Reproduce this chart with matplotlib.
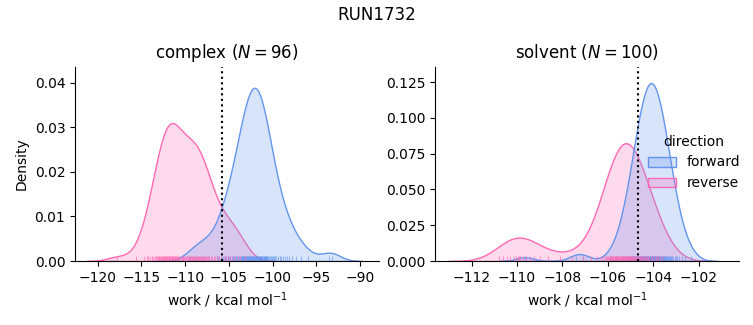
import numpy as np
import matplotlib
matplotlib.use("Agg")
import matplotlib.pyplot as plt
from matplotlib.colors import to_rgba
from matplotlib.patches import Patch
from matplotlib.ticker import MultipleLocator

# ---------------- data (work values, kcal/mol) ----------------
complex_forward = [
    -109.4, -108.6, -108.2, -107.7, -107.3,
    -106.4, -106.2, -105.95, -105.7,
    -105.45, -105.3, -105.15, -105.0, -104.85, -104.7, -104.57,
    -104.45, -104.33, -104.21, -104.1, -103.98, -103.87, -103.76, -103.65, -103.55,
    -103.47, -103.41, -103.35, -103.29, -103.22, -103.16, -103.1, -103.04, -102.97, -102.91,
    -102.85, -102.79, -102.72, -102.66, -102.6, -102.54,
    -102.48, -102.42, -102.37, -102.31, -102.26, -102.2, -102.15, -102.09, -102.04, -101.98,
    -101.93, -101.87, -101.82, -101.76, -101.71, -101.65, -101.6, -101.54,
    -101.47, -101.41, -101.34, -101.28, -101.22, -101.16, -101.09, -101.03, -100.97, -100.91,
    -100.84, -100.78, -100.72, -100.66, -100.59, -100.53,
    -100.45, -100.32, -100.2, -100.07, -99.95, -99.83, -99.7, -99.57,
    -99.4, -99.2, -99.0, -98.8, -98.6,
    -98.35, -98.1, -97.8,
    -97.3, -96.8,
    -96.0,
    -93.55, -93.25,
]

complex_reverse = [
    -117.8, -115.6, -114.7,
    -114.4, -114.2, -114.0, -113.85, -113.7,
    -113.45, -113.35, -113.25, -113.15, -113.05, -112.95, -112.85, -112.75, -112.68, -112.6, -112.52,
    -112.46, -112.39, -112.32, -112.25, -112.18, -112.11, -112.04, -111.97, -111.9, -111.83,
    -111.76, -111.69, -111.62,
    -111.56, -111.49, -111.42, -111.35, -111.28, -111.21, -111.14, -111.07, -111.0, -110.92,
    -110.84, -110.76, -110.68,
    -110.5, -110.4, -110.3, -110.2, -110.1, -110.0, -109.9, -109.8, -109.7, -109.6, -109.52,
    -109.45, -109.36, -109.27, -109.18, -109.09, -109.0, -108.91, -108.82, -108.73, -108.64, -108.55,
    -108.46, -108.37, -108.28, -108.19, -108.1, -108.0, -107.91, -107.82, -107.73, -107.64, -107.55,
    -107.42, -107.25, -107.08, -106.92, -106.75, -106.58,
    -106.35, -106.1, -105.85, -105.6,
    -105.35, -105.1, -104.85, -104.6,
    -104.3, -104.0, -103.7,
    -103.2,
]

solvent_forward = [
    -109.65, -107.4, -107.1,
    -105.87, -105.58, -105.44, -105.34, -105.26, -105.19, -105.13, -105.08, -105.04, -104.99,
    -104.95, -104.91, -104.89, -104.85, -104.82, -104.79, -104.76, -104.73, -104.70, -104.67,
    -104.66, -104.63, -104.61, -104.58, -104.56, -104.54, -104.51, -104.49, -104.47, -104.45,
    -104.44, -104.42, -104.40, -104.38, -104.36, -104.34, -104.32, -104.30, -104.28, -104.26,
    -104.24, -104.22, -104.20, -104.19, -104.17, -104.16, -104.14, -104.12, -104.10,
    -104.08, -104.06, -104.04, -104.03, -104.01, -103.99, -103.98, -103.96, -103.94, -103.92,
    -103.90, -103.88, -103.86, -103.84, -103.82, -103.80, -103.78, -103.76, -103.75, -103.73,
    -103.71, -103.69, -103.66, -103.64, -103.62, -103.59, -103.57, -103.54, -103.53, -103.50,
    -103.47, -103.44, -103.41, -103.38, -103.35, -103.31, -103.29, -103.25, -103.21, -103.16,
    -103.12, -103.07, -103.01, -102.94, -102.86, -102.76, -102.62, -102.33,
]

solvent_reverse = [
    -110.8, -110.6, -110.45, -110.3, -110.15, -110.05, -109.95, -109.9, -109.85, -109.75,
    -109.6, -109.45, -109.25, -109.0, -108.65,
    -108.1, -107.6, -107.1, -106.75,
    -105.51, -105.53, -105.55, -105.57, -105.59, -105.61, -105.63, -105.65, -105.67, -105.69,
    -105.71, -105.74, -105.76, -105.78, -105.81, -105.83, -105.86, -105.89, -105.92, -105.96,
    -105.99, -106.03, -106.08, -106.14, -106.21, -106.30, -106.49,
    -105.45, -105.43, -105.41, -105.39, -105.37, -105.35, -105.32, -105.30, -105.28, -105.26,
    -105.24, -105.22, -105.20, -105.17, -105.15, -105.13, -105.11, -105.08, -105.06, -105.04,
    -105.02, -104.99, -104.97, -104.94, -104.92, -104.89, -104.87, -104.84, -104.81, -104.79,
    -104.76, -104.73, -104.70, -104.67, -104.64, -104.61, -104.57, -104.54, -104.50, -104.46,
    -104.42, -104.38, -104.34, -104.29, -104.24, -104.18, -104.12, -104.05, -103.98, -103.89,
    -103.84, -103.78, -103.71, -103.61,
]

phases = ["complex", "solvent"]
phase_n = [96, 100]
directions = ["forward", "reverse"]
estimates = [-105.8, -104.66]          # dotted vertical lines
data = {
    ("complex", "forward"): complex_forward,
    ("complex", "reverse"): complex_reverse,
    ("solvent", "forward"): solvent_forward,
    ("solvent", "reverse"): solvent_reverse,
}

colors = {"forward": "#6495ED", "reverse": "#FF69B4"}
xlims = [(-122.6, -87.8), (-113.61, -100.22)]
ylims = [(0, 0.0436), (0, 0.1358)]
xsteps = [5, 2]
ysteps = [0.01, 0.025]

total = sum(len(v) for v in data.values())


def kde(samples, weight):
    x = np.asarray(samples, float)
    n = x.size
    bw = x.std(ddof=1) * n ** (-1 / 5)
    grid = np.linspace(x.min() - 3 * bw, x.max() + 3 * bw, 200)
    z = (grid[:, None] - x[None, :]) / bw
    dens = np.exp(-0.5 * z ** 2).sum(axis=1) / (n * bw * np.sqrt(2 * np.pi))
    return grid, dens * weight


fig = plt.figure(figsize=(7.53, 3.25), dpi=100)
axes = [fig.add_axes([0.0996, 0.1969, 0.4041, 0.5978]),
        fig.add_axes([0.5777, 0.1969, 0.4041, 0.5978])]

for i, (ax, phase) in enumerate(zip(axes, phases)):
    for d in directions[::-1]:
        s = data[(phase, d)]
        g, y = kde(s, len(s) / total)
        ax.fill_between(g, 0, y, facecolor=to_rgba(colors[d], 0.25),
                        edgecolor=colors[d], linewidth=1.0)
    for d in directions:
        s = data[(phase, d)]
        ax.vlines(s, 0, 0.025, transform=ax.get_xaxis_transform(),
                  colors=colors[d], linewidth=0.8, alpha=0.6)
    ax.axvline(estimates[i], color="k", linestyle=":", linewidth=1.5)
    ax.set_xlim(*xlims[i])
    ax.set_ylim(*ylims[i])
    ax.xaxis.set_major_locator(MultipleLocator(xsteps[i]))
    ax.yaxis.set_major_locator(MultipleLocator(ysteps[i]))
    ax.spines["top"].set_visible(False)
    ax.spines["right"].set_visible(False)
    ax.set_title(f"{phase} ($N = {phase_n[i]}$)", fontsize=12)
    ax.set_xlabel("work / kcal mol$^{-1}$")

axes[0].set_ylabel("Density")

handles = [Patch(facecolor=to_rgba(colors[d], 0.25), edgecolor=colors[d], linewidth=1.0)
           for d in directions]
fig.legend(handles, directions, title="direction", loc="center right",
           bbox_to_anchor=(1.0, 0.5), frameon=False)
fig.suptitle("RUN1732", fontsize=12)

fig.savefig("out.png", dpi=100)
